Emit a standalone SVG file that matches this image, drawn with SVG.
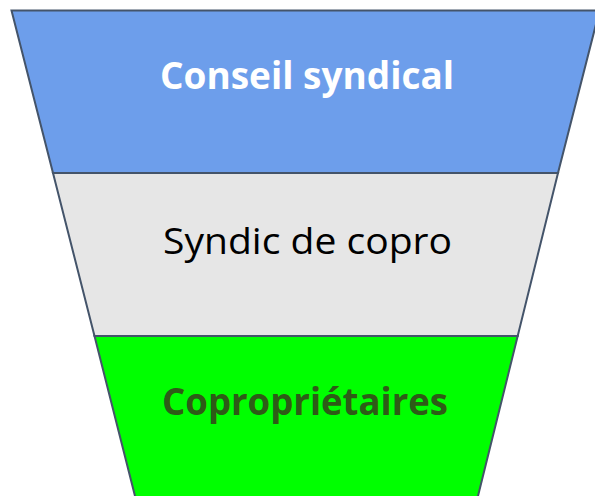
<svg xmlns="http://www.w3.org/2000/svg" width="595" height="496" viewBox="0 0 595 496">
<style>
.layer{stroke:#44546A;stroke-width:2;stroke-linejoin:miter}
.lbl{font-family:"Open Sans","Liberation Sans",sans-serif;font-size:37px;text-anchor:middle}
</style>
<rect width="595" height="496" fill="#FFFFFF"/>
<g id="conseil">
<polygon class="layer" fill="#6D9EEB" points="11.5,10.5 599.5,10.5 558,173 53,173"/>
<text class="lbl" x="307" y="89" fill="#FFFFFF" font-weight="bold" textLength="294" lengthAdjust="spacingAndGlyphs">Conseil syndical</text>
</g>
<g id="syndic">
<polygon class="layer" fill="#E6E6E6" points="53,173 558,173 517.7,336 94.5,336"/>
<text class="lbl" x="307.5" y="254" fill="#000000" textLength="289" lengthAdjust="spacingAndGlyphs">Syndic de copro</text>
</g>
<g id="coproprietaires">
<polygon class="layer" fill="#00FF00" points="94.5,336 517.7,336 477,500 136,500"/>
<text class="lbl" x="305" y="415" fill="#2E5B17" font-weight="bold" textLength="286" lengthAdjust="spacingAndGlyphs">Copropriétaires</text>
</g>
<g id="connectors"></g>
</svg>
